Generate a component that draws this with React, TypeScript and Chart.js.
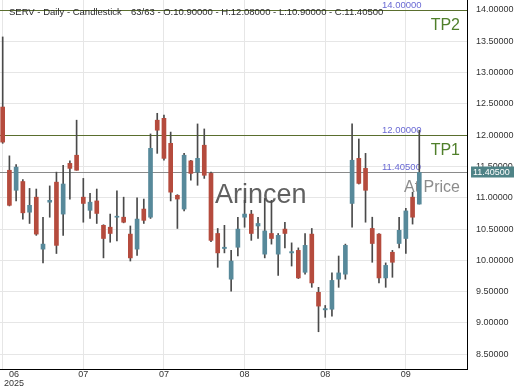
import React, { useEffect, useRef } from 'react';
import { Chart, registerables } from 'chart.js';

Chart.register(...registerables);

// ---- data ----
const symbol = 'SERV';
const openValues = [
  12.45, 11.44, 11.12, 11.26, 10.77, 11.01, 10.18, 10.93, 11.25, 10.74,
  11.55, 11.68, 11.01, 10.8, 10.95, 10.56, 10.53, 10.69, 10.69, 10.42,
  10.18, 10.82, 10.69, 12.24, 12.27, 11.87, 11.04, 10.82, 11.59, 11.41,
  11.84, 11.39, 10.43, 10.19, 9.7, 10.21, 10.69, 10.74, 10.55, 10.1,
  10.43, 10.1, 10.5, 10.12, 10.16, 9.81, 10.42, 9.49, 9.21, 9.22,
  9.7, 9.78, 10.91, 11.63, 11.47, 10.51, 10.42, 9.72, 10.13, 10.27,
  10.35, 11.01, 10.9,
];
const highValues = [
  13.57, 11.67, 11.53, 11.29, 11.15, 11.14, 10.69, 11.19, 11.41, 11.52,
  11.59, 12.24, 11.31, 11.07, 11.14, 10.57, 10.74, 11.11, 11.01, 10.55,
  11.0, 10.98, 12.02, 12.35, 12.32, 12.05, 11.05, 11.71, 11.6, 12.18,
  12.1, 11.41, 10.51, 10.56, 10.16, 10.69, 10.96, 10.8, 10.69, 10.99,
  10.96, 10.43, 10.61, 10.28, 10.2, 10.43, 10.51, 9.57, 9.28, 9.8,
  10.07, 10.26, 12.18, 11.94, 11.71, 10.69, 10.43, 9.96, 10.16, 10.69,
  10.83, 11.09, 12.08,
];
const lowValues = [
  11.87, 10.87, 10.95, 10.66, 10.59, 10.4, 9.96, 10.69, 10.11, 10.4,
  10.98, 11.44, 10.61, 10.67, 10.59, 10.04, 10.29, 10.31, 10.6, 9.99,
  10.08, 10.59, 10.67, 11.71, 11.6, 10.95, 10.51, 10.79, 11.28, 11.2,
  11.31, 10.3, 9.89, 10.12, 9.51, 10.07, 10.53, 10.32, 10.35, 10.04,
  10.26, 9.76, 10.2, 9.91, 9.71, 9.78, 9.57, 8.86, 9.09, 9.11,
  9.57, 9.7, 10.53, 11.22, 10.61, 9.97, 9.64, 9.57, 9.73, 10.2,
  10.11, 10.58, 10.9,
];
const closeValues = [
  11.89, 10.88, 11.49, 10.76, 10.88, 10.42, 10.26, 10.96, 10.24, 11.22,
  11.47, 11.44, 10.91, 10.93, 10.75, 10.35, 10.43, 10.7, 10.61, 10.04,
  10.66, 10.64, 11.79, 12.08, 11.63, 11.09, 10.98, 11.68, 11.39, 11.63,
  11.36, 10.32, 10.12, 10.21, 9.99, 10.5, 10.74, 10.43, 10.59, 10.47,
  10.35, 10.4, 10.43, 10.14, 9.72, 10.24, 9.64, 9.27, 9.23, 9.68,
  9.8, 10.24, 11.6, 11.23, 11.12, 10.27, 9.72, 9.92, 9.97, 10.48,
  10.79, 10.69, 11.405,
];
const monthLabels = ['06', '07', '07', '08', '08', '09'];
const yearLabel = '2025';
const tickEvery = 12;
const levelValues = [14.0, 12.0, 11.405];
const levelNames = ['TP2', 'TP1', 'At Price'];
const lastPrice = 11.405;
const yMin = 8.265;
const yMax = 14.16;
const yStep = 0.5;
const xMin = -0.4;
const xMax = 69.1;

const FONT = "'Liberation Sans', Arial, sans-serif";
const UP = '#57899a';
const DOWN = '#b54b3d';
const WICK = '#4a4a4a';

const fmt5 = (v: number) => v.toFixed(5);

const overlayPlugin = {
  id: 'overlay',
  beforeDatasetsDraw(chart: any) {
    const { ctx, chartArea, scales } = chart;
    const y = scales.y;
    ctx.save();
    levelValues.forEach((v, i) => {
      const py = Math.round(y.getPixelForValue(v)) + 0.5;
      ctx.beginPath();
      ctx.strokeStyle = i < 2 ? '#5a6e2e' : '#8a8a8a';
      ctx.lineWidth = 1;
      ctx.moveTo(chartArea.left, py);
      ctx.lineTo(chartArea.right, py);
      ctx.stroke();
      ctx.font = `9.5px ${FONT}`;
      ctx.fillStyle = '#6a6ad4';
      ctx.textAlign = 'left';
      ctx.textBaseline = 'alphabetic';
      ctx.fillText(fmt5(v), 382, py - 2.5);
      ctx.font = `16px ${FONT}`;
      ctx.textAlign = 'right';
      ctx.fillStyle = i < 2 ? '#4f7f2a' : '#8c8c8c';
      ctx.fillText(levelNames[i], chartArea.right - 7, py + 19);
    });
    ctx.font = `27px ${FONT}`;
    ctx.fillStyle = '#606060';
    ctx.textAlign = 'left';
    ctx.fillText('Arincen', 215, 203);
    ctx.restore();
  },
  afterDraw(chart: any) {
    const { ctx, scales } = chart;
    const y = scales.y;
    ctx.save();
    ctx.font = `9.5px ${FONT}`;
    ctx.fillStyle = '#2a2a2a';
    ctx.textAlign = 'left';
    ctx.textBaseline = 'alphabetic';
    ctx.fillText(`${symbol} - Daily - Candlestick`, 9, 15);
    const n = closeValues.length;
    const info = `${n}/${n} - O:${fmt5(openValues[n - 1])} - H:${fmt5(highValues[n - 1])} - L:${fmt5(lowValues[n - 1])} - C:${fmt5(closeValues[n - 1])}`;
    ctx.fillText(info, 131, 15);
    const py = y.getPixelForValue(lastPrice);
    ctx.fillStyle = '#4f8387';
    ctx.fillRect(471, Math.round(py) - 5.5, 43, 11);
    ctx.fillStyle = '#ffffff';
    ctx.font = `9px ${FONT}`;
    ctx.textBaseline = 'middle';
    ctx.fillText(fmt5(lastPrice), 473, py + 0.5);
    ctx.restore();
  },
};

export default function App() {
  const ref = useRef<HTMLCanvasElement | null>(null);

  useEffect(() => {
    if (!ref.current) return;
    const bodies = openValues.map((o, i) => ({ x: i, y: [o, closeValues[i]] }));
    const wicks = lowValues.map((l, i) => ({ x: i, y: [l, highValues[i]] }));
    const chart = new Chart(ref.current, {
      type: 'bar',
      data: {
        datasets: [
          {
            label: 'body',
            data: bodies as any,
            grouped: false,
            order: 0,
            barThickness: 4,
            minBarLength: 1,
            borderWidth: 0,
            backgroundColor: (c: any) =>
              closeValues[c.dataIndex] >= openValues[c.dataIndex] ? UP : DOWN,
          } as any,
          {
            label: 'wick',
            data: wicks as any,
            grouped: false,
            order: 1,
            barThickness: 1,
            borderWidth: 0,
            backgroundColor: WICK,
          } as any,
        ],
      },
      options: {
        animation: false,
        responsive: false,
        devicePixelRatio: 1,
        layout: { padding: 0 },
        plugins: { legend: { display: false }, tooltip: { enabled: false }, title: { display: false } },
        scales: {
          x: {
            type: 'linear',
            min: xMin,
            max: xMax,
            offset: false,
            grid: { offset: false, color: '#e6e6e6', drawTicks: false },
            border: { display: true, color: '#000000', width: 1 },
            ticks: {
              stepSize: tickEvery,
              includeBounds: false,
              maxRotation: 0,
              minRotation: 0,
              autoSkip: false,
              padding: 1,
              color: '#333333',
              font: { family: FONT, size: 9, lineHeight: 1 },
              callback: (v: any) => {
                const k = Math.round(Number(v) / tickEvery);
                const lbl = monthLabels[k];
                if (lbl === undefined) return null;
                if (k === 0) {
                  const pad = '         ';
                  return [pad + lbl, pad + yearLabel];
                }
                return lbl;
              },
            },
            afterFit: (s: any) => {
              s.paddingLeft = 0;
              s.paddingRight = 0;
              s.height = 21;
            },
          } as any,
          y: {
            position: 'right',
            min: yMin,
            max: yMax,
            grid: { color: '#e6e6e6', drawTicks: false },
            border: { display: true, color: '#000000', width: 1 },
            ticks: {
              stepSize: yStep,
              includeBounds: false,
              padding: 9,
              color: '#333333',
              font: { family: FONT, size: 9 },
              callback: (v: any) => Number(v).toFixed(5),
            },
            afterFit: (s: any) => {
              s.paddingTop = 0;
              s.paddingBottom = 0;
              s.width = 53;
            },
          } as any,
        },
      },
      plugins: [overlayPlugin],
    });
    return () => chart.destroy();
  }, []);

  return (
    <div style={{ position: 'fixed', left: 0, top: 0, width: 520, height: 390, background: '#ffffff' }}>
      <canvas ref={ref} width={520} height={390} style={{ display: 'block' }} />
    </div>
  );
}
